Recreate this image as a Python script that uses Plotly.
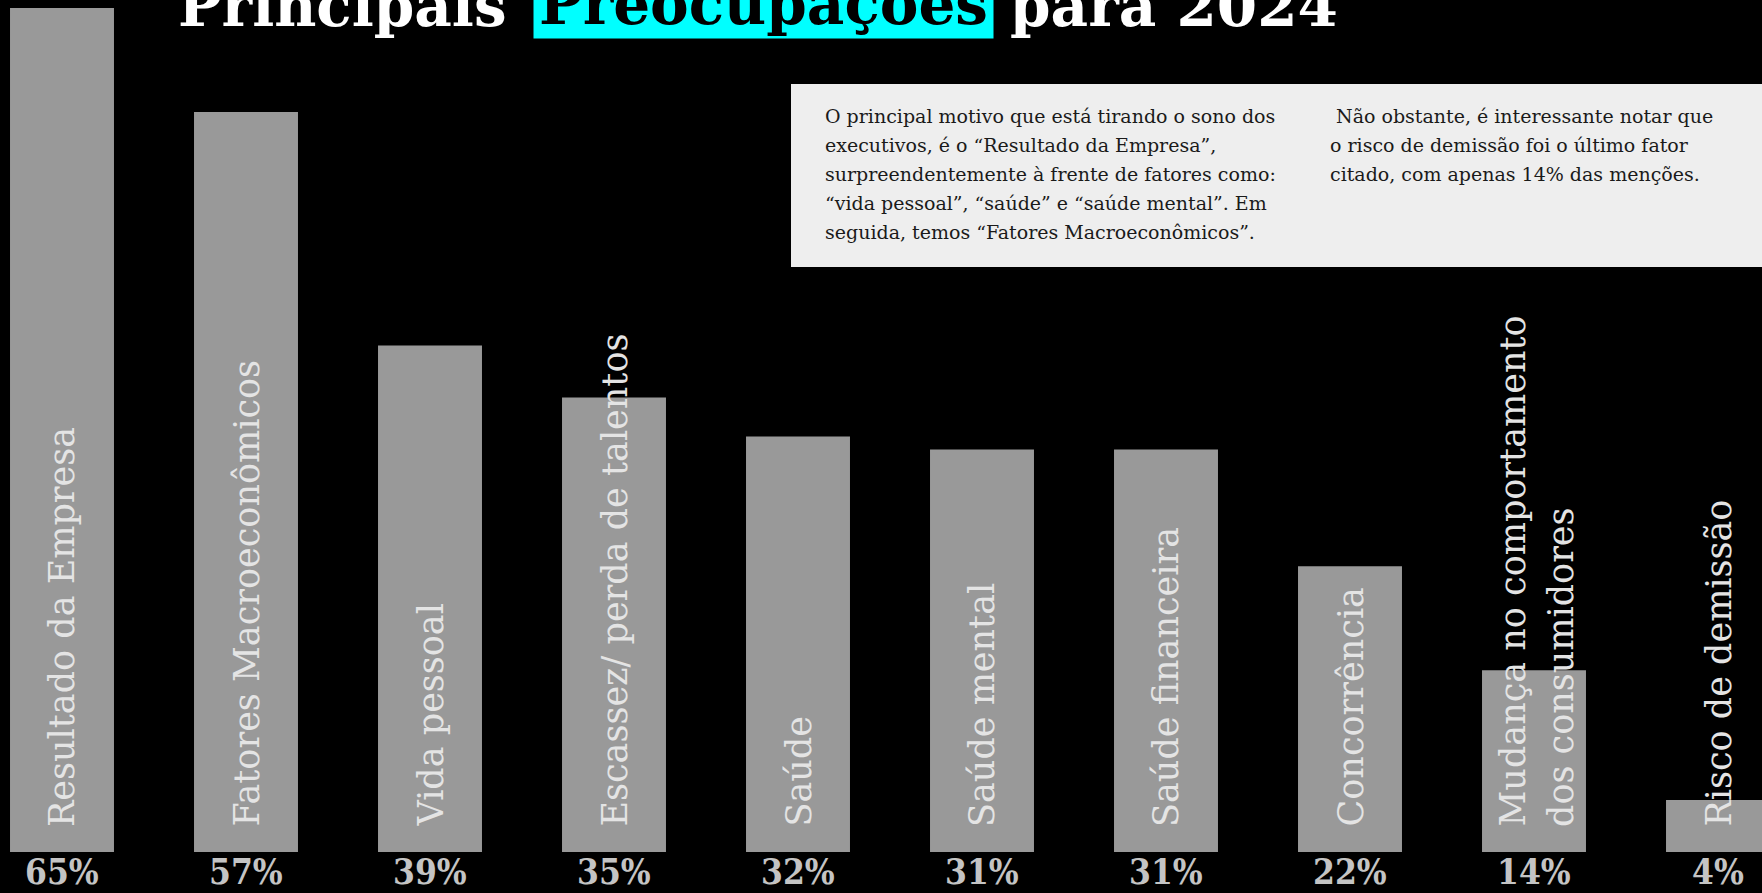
import plotly.graph_objects as go

# --- data -------------------------------------------------------------
categorias = [
    "Resultado da Empresa",
    "Fatores Macroeconômicos",
    "Vida pessoal",
    "Escassez/ perda de talentos",
    "Saúde",
    "Saúde mental",
    "Saúde financeira",
    "Concorrência",
    "Mudança no comportamento<br>dos consumidores",
    "Risco de demissão",
]
valores = [65, 57, 39, 35, 32, 31, 31, 22, 14, 4]
rotulos = [f"{v}%" for v in valores]

titulo_partes = ["Principais", "Preocupações", "para 2024"]

texto_esquerda = [
    "O principal motivo que está tirando o sono dos",
    "executivos, é o “Resultado da Empresa”,",
    "surpreendentemente à frente de fatores como:",
    "“vida pessoal”, “saúde” e “saúde mental”. Em",
    "seguida, temos “Fatores Macroeconômicos”.",
]
texto_direita = [
    "\u00a0Não obstante, é interessante notar que",
    "o risco de demissão foi o último fator",
    "citado, com apenas 14% das menções.",
]

# --- geometry ---------------------------------------------------------
W, H = 1762, 893
BASE_PX = 852          # pixel row of the bar baseline
TOP_PX = 8             # pixel row reached by the tallest bar
PX_PER_UNIT = (BASE_PX - TOP_PX) / max(valores)
Y_LO = -(H - BASE_PX) / PX_PER_UNIT
Y_HI = BASE_PX / PX_PER_UNIT

FIRST_CX, PITCH = 62, 184
X_LO = -FIRST_CX / PITCH
X_HI = (W - FIRST_CX) / PITCH


def y_at(px):
    return (BASE_PX - px) / PX_PER_UNIT


def py(px):
    return 1 - px / H


def px_(x):
    return x / W


SERIF = "DejaVu Serif"
BAR_TXT = "#e4e4e4"
BAR_FONT = 35

fig = go.Figure()
fig.add_trace(go.Bar(
    x=categorias, y=valores, width=0.565,
    marker=dict(color="#999999", line=dict(width=0)),
    hoverinfo="skip",
))

ann = []

# rotated category names inside the bars
for cat in categorias:
    linhas = cat.split("<br>")
    if len(linhas) == 1:
        ann.append(dict(
            x=cat, y=y_at(829), xref="x", yref="y", text=cat, textangle=-90,
            showarrow=False, xanchor="center", yanchor="bottom",
            font=dict(family=SERIF, size=BAR_FONT, color=BAR_TXT),
        ))
    else:
        for ln, dx in zip(linhas, [-22, 27]):
            ann.append(dict(
                x=cat, y=y_at(829), xref="x", yref="y", text=ln, textangle=-90,
                showarrow=False, xanchor="center", yanchor="bottom", xshift=dx,
                font=dict(family=SERIF, size=BAR_FONT, color=BAR_TXT),
            ))

# percentage labels under the bars
for cat, rot in zip(categorias, rotulos):
    ann.append(dict(
        x=cat, y=y_at(871), xref="x", yref="y", text=rot, showarrow=False,
        xanchor="center", yanchor="middle",
        font=dict(family="DejaVu Serif Condensed", size=35, color="#c4c4c4",
                  weight="bold"),
    ))

# title, with the highlighted word on a cyan block
TITLE_SIZE = 58
ann.append(dict(
    x=px_(176), y=py(42), xref="paper", yref="paper", text=titulo_partes[0],
    showarrow=False, xanchor="left", yanchor="bottom",
    font=dict(family=SERIF, size=TITLE_SIZE, color="white", weight="bold"),
))
ann.append(dict(
    x=px_(533), y=py(39), xref="paper", yref="paper", text=titulo_partes[1],
    showarrow=False, xanchor="left", yanchor="bottom", width=459, height=80,
    valign="bottom", align="center", borderpad=0, bgcolor="#00ffff",
    font=dict(family=SERIF, size=TITLE_SIZE, color="black", weight="bold"),
))
ann.append(dict(
    x=px_(1008), y=py(42), xref="paper", yref="paper", text=titulo_partes[2],
    showarrow=False, xanchor="left", yanchor="bottom",
    font=dict(family=SERIF, size=TITLE_SIZE, color="white", weight="bold"),
))

# commentary text inside the grey panel
LINE_Y = [116, 145, 174, 203, 232]
for ln, yy in zip(texto_esquerda, LINE_Y):
    ann.append(dict(
        x=px_(823), y=py(yy), xref="paper", yref="paper", text=ln,
        showarrow=False, xanchor="left", yanchor="middle",
        font=dict(family=SERIF, size=19, color="#1a1a1a"),
    ))
for ln, yy in zip(texto_direita, LINE_Y):
    ann.append(dict(
        x=px_(1328), y=py(yy), xref="paper", yref="paper", text=ln,
        showarrow=False, xanchor="left", yanchor="middle",
        font=dict(family=SERIF, size=19, color="#1a1a1a"),
    ))

fig.update_layout(
    width=W, height=H,
    margin=dict(l=0, r=0, t=0, b=0),
    paper_bgcolor="black", plot_bgcolor="black",
    showlegend=False,
    xaxis=dict(range=[X_LO, X_HI], visible=False, fixedrange=True),
    yaxis=dict(range=[Y_LO, Y_HI], visible=False, fixedrange=True),
    shapes=[dict(
        type="rect", xref="paper", yref="paper",
        x0=px_(791), x1=1, y0=py(267), y1=py(84),
        fillcolor="#eeeeee", line=dict(width=0), layer="above",
    )],
    annotations=ann,
)

fig.write_html("out.html")
